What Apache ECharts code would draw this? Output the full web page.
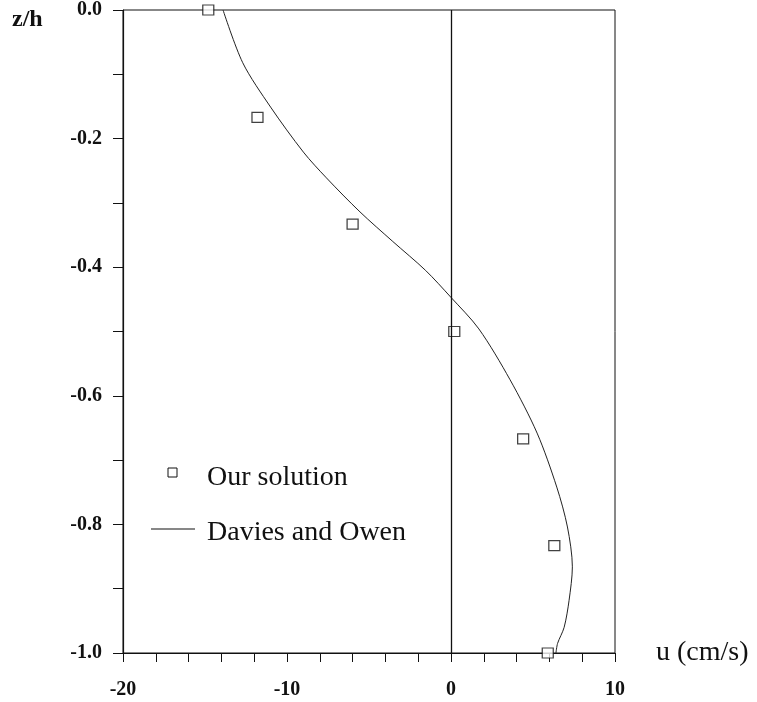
<!DOCTYPE html>
<html>
<head>
<meta charset="utf-8">
<script src="https://cdn.jsdelivr.net/npm/echarts@6/dist/echarts.min.js"></script>
<style>
  html, body { margin: 0; padding: 0; background: #fff; }
  #chart { width: 757px; height: 702px; }
</style>
</head>
<body>
<div id="chart"></div>
<script>
// "Our solution" (squares)
var solU = [-14.8, -11.8, -6.0, 0.2, 4.4, 6.3, 5.9];
var solZ = [0.0, -0.167, -0.333, -0.5, -0.667, -0.833, -1.0];

// "Davies and Owen" (solid curve)
var refU = [-13.9, -12.7, -11.0, -9.0, -7.6, -5.55, -3.55, -1.55, 0.0, 1.7, 3.6, 5.25, 6.45, 7.1, 7.4, 7.2, 6.9, 6.5, 6.4];
var refZ = [0.0, -0.082, -0.151, -0.221, -0.261, -0.314, -0.360, -0.405, -0.447, -0.496, -0.575, -0.658, -0.742, -0.804, -0.866, -0.918, -0.960, -0.985, -1.0];

var xTickLabels = [-20, -10, 0, 10];
var yTickLabels = [-1.0, -0.8, -0.6, -0.4, -0.2, 0.0];

var serif = '"Liberation Serif", "DejaVu Serif", serif';

function pairs(a, b) {
  var out = [];
  for (var i = 0; i < a.length; i++) out.push([a[i], b[i]]);
  return out;
}

var chart = echarts.init(document.getElementById('chart'));

chart.setOption({
  backgroundColor: '#fff',
  animation: false,
  grid: {
    left: 123,
    right: 142,
    top: 10,
    bottom: 49,
    show: true,
    borderColor: '#111',
    borderWidth: 1
  },
  xAxis: {
    type: 'value',
    min: -20,
    max: 10,
    interval: 2,
    axisLine: { onZero: false, lineStyle: { color: '#111', width: 1.2 } },
    axisTick: { show: true, inside: false, length: 9, lineStyle: { color: '#111' } },
    splitLine: { show: false },
    axisLabel: {
      margin: 27,
      color: '#111',
      fontFamily: serif,
      fontWeight: 'bold',
      fontSize: 20,
      formatter: function (v) {
        return xTickLabels.indexOf(v) >= 0 ? String(v) : '';
      }
    }
  },
  yAxis: {
    type: 'value',
    min: -1,
    max: 0,
    interval: 0.1,
    axisLine: { onZero: false, lineStyle: { color: '#111', width: 1.2 } },
    axisTick: { show: true, inside: false, length: 10, lineStyle: { color: '#111' } },
    splitLine: { show: false },
    axisLabel: {
      margin: 21,
      color: '#111',
      fontFamily: serif,
      fontWeight: 'bold',
      fontSize: 20,
      formatter: function (v) {
        for (var i = 0; i < yTickLabels.length; i++) {
          if (Math.abs(yTickLabels[i] - v) < 1e-6) return yTickLabels[i].toFixed(1);
        }
        return '';
      }
    }
  },
  series: [
    {
      name: 'Davies and Owen',
      type: 'line',
      smooth: 0.3,
      symbol: 'none',
      lineStyle: { color: '#222', width: 1 },
      data: pairs(refU, refZ),
      markLine: {
        silent: true,
        symbol: 'none',
        label: { show: false },
        lineStyle: { color: '#111', type: 'solid', width: 1.3 },
        data: [{ xAxis: 0 }]
      },
      z: 2
    },
    {
      name: 'Our solution',
      type: 'scatter',
      symbol: 'rect',
      symbolSize: [11, 10],
      itemStyle: { color: '#fff', borderColor: '#111', borderWidth: 1.2 },
      data: pairs(solU, solZ),
      z: 3
    }
  ],
  graphic: [
    {
      type: 'text', x: 12, y: 20,
      style: { text: 'z/h', font: 'bold 24px ' + serif, fill: '#111', verticalAlign: 'middle' }
    },
    {
      type: 'text', x: 656, y: 653,
      style: { text: 'u (cm/s)', font: '28px ' + serif, fill: '#111', verticalAlign: 'middle' }
    },
    {
      type: 'rect', shape: { x: 168, y: 468, width: 9, height: 9 },
      style: { fill: '#fff', stroke: '#111', lineWidth: 1 }
    },
    {
      type: 'text', x: 207, y: 478,
      style: { text: 'Our solution', font: '28px ' + serif, fill: '#111', verticalAlign: 'middle' }
    },
    {
      type: 'line', shape: { x1: 151, y1: 529, x2: 195, y2: 529 },
      style: { stroke: '#111', lineWidth: 1.2 }
    },
    {
      type: 'text', x: 207, y: 533,
      style: { text: 'Davies and Owen', font: '28px ' + serif, fill: '#111', verticalAlign: 'middle' }
    }
  ]
});
</script>
</body>
</html>
